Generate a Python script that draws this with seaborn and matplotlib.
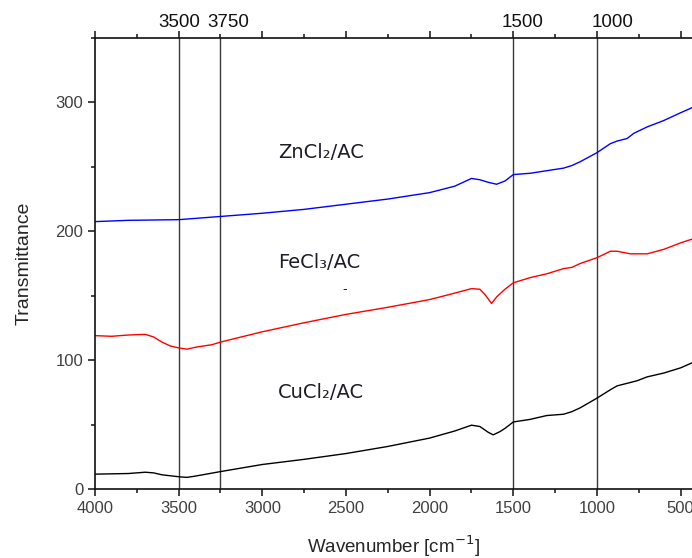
#============================= IMPORT LIBRARIES =============================

import matplotlib
matplotlib.use("Agg")
import matplotlib.pyplot as plt
import matplotlib.transforms as mtransforms
from matplotlib.ticker import MultipleLocator
import seaborn as sns

#============================= DATA ==============================

zn_x = [4000, 3800, 3500, 3250, 3000, 2750, 2500, 2250, 2000, 1850, 1750, 1700, 1650,
        1600, 1550, 1500, 1400, 1300, 1200, 1150, 1100, 1000, 920, 880, 820, 780, 700,
        600, 500, 430]
zn_y = [207.5, 208.5, 209, 211.5, 214, 217, 221, 225, 230, 235, 241, 240, 238,
        236.5, 239, 244, 245, 247, 249, 251, 254, 261, 268, 270, 272, 276, 281,
        286, 292, 296]

fe_x = [4000, 3900, 3800, 3700, 3650, 3600, 3550, 3500, 3450, 3400, 3300, 3250, 3000,
        2750, 2500, 2250, 2000, 1850, 1750, 1700, 1670, 1630, 1600, 1550, 1500, 1400,
        1300, 1200, 1150, 1100, 1000, 920, 880, 800, 700, 600, 500, 430]
fe_y = [119, 118.5, 119.5, 120, 118, 114, 111, 109.5, 108.5, 110, 112, 114, 122,
        129, 135.5, 141, 147, 152, 155.5, 155, 151, 144, 149, 155, 160, 164,
        167, 171, 172, 175, 179.5, 184.5, 184.5, 182.5, 182.5, 186, 191, 194]

cu_x = [4000, 3800, 3700, 3650, 3600, 3500, 3450, 3400, 3250, 3000, 2750, 2500, 2250,
        2000, 1850, 1750, 1700, 1650, 1620, 1580, 1550, 1500, 1400, 1300, 1200, 1150,
        1100, 1000, 920, 880, 820, 760, 700, 600, 500, 430]
cu_y = [11.5, 12, 13, 12.5, 11, 9.5, 9, 10, 13.5, 19, 23, 27.5, 33,
        39.5, 45, 49.5, 48.5, 44, 42, 44.5, 47, 52, 54, 57, 58, 60,
        63, 70.5, 77, 80, 82, 84, 87, 90, 94, 98]

series_names = ["ZnCl₂/AC", "FeCl₃/AC", "CuCl₂/AC"]
series_colors = ["#0000ff", "#ff0000", "#000000"]
label_x = [2905, 2905, 2905]
label_y = [261, 176, 75]

line_pos = [3500, 3250, 1500, 1000]
top_label_pos = [3495, 3205, 1442, 904]
top_labels = ["3500", "3750", "1500", "1000"]

#============================= PLOT ==============================

sns.set_style("ticks")
plt.rcParams['font.family'] = ['Liberation Sans', 'DejaVu Sans']

fig = plt.figure(figsize=(6.92, 5.58), dpi=100)
ax = fig.add_axes([0.1373, 0.1237, 0.8627, 0.8082])

for xs, ys, col in zip([zn_x, fe_x, cu_x], [zn_y, fe_y, cu_y], series_colors):
    sns.lineplot(x=xs, y=ys, color=col, linewidth=1.0, ax=ax, estimator=None, sort=False)

for xv in line_pos:
    ax.axvline(xv, color="#3a3a3a", linewidth=1.0, zorder=0)

for name, lx, ly in zip(series_names, label_x, label_y):
    ax.text(lx, ly, name, fontsize=14, family=['DejaVu Sans'], color="#1c1c2a",
            ha="left", va="center")
ax.text(2510, 155, "-", fontsize=10, color="#1c1c2a", ha="center", va="center")

trans = mtransforms.blended_transform_factory(ax.transData, ax.transAxes)
for xp, lab in zip(top_label_pos, top_labels):
    ax.text(xp, 1.034, lab, transform=trans, fontsize=13.5, color="#111111",
            ha="center", va="center")

ax.set_xlim(4000, 432)
ax.set_ylim(0, 350)
ax.xaxis.set_major_locator(MultipleLocator(500))
ax.xaxis.set_minor_locator(MultipleLocator(250))
ax.yaxis.set_major_locator(MultipleLocator(100))
ax.yaxis.set_minor_locator(MultipleLocator(50))
ax.tick_params(which="both", direction="out", top=True, labeltop=False,
               width=1.1, color="#111111")
ax.tick_params(which="major", length=5, labelsize=12, labelcolor="#404040")
ax.tick_params(which="minor", length=3)

for side in ["left", "bottom", "top"]:
    ax.spines[side].set_linewidth(1.2)
    ax.spines[side].set_color("#111111")
ax.spines["right"].set_visible(False)

ax.set_xlabel("Wavenumber [cm$^{-1}$]", fontsize=13.5, labelpad=13)
ax.set_ylabel("Transmittance", fontsize=14, labelpad=16)

plt.savefig("out.png", dpi=100)
